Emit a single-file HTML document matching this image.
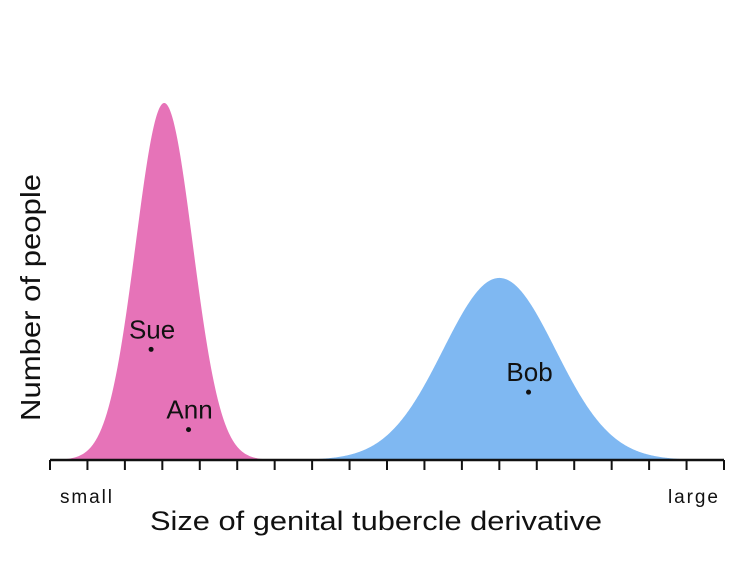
<!DOCTYPE html>
<html><head><meta charset="utf-8"><style>
body{margin:0;background:#fff;}
svg{display:block;font-family:"Liberation Sans","DejaVu Sans",sans-serif;}
</style></head><body>
<svg id="chart" width="754" height="566">
<g id="curves"></g>
<g id="axis"></g>
<g id="points"></g>
<text x="60" y="503" font-size="19" fill="#111" textLength="52">small</text>
<text x="668" y="503" font-size="19" fill="#111" textLength="50">large</text>
<text x="150" y="530" font-size="27" fill="#111" textLength="452" lengthAdjust="spacingAndGlyphs">Size of genital tubercle derivative</text>
<text transform="translate(40,421) rotate(-90)" font-size="28" fill="#111" textLength="247" lengthAdjust="spacingAndGlyphs">Number of people</text>
</svg>
<script>
const groupNames=["female","male"];
const groupMeans=[3.05,12.0];
const groupSds=[0.76,1.5];
const groupPeaks=[100,51];
const groupColors=["#e673b8","#7fb8f2"];
const personNames=["Sue","Ann","Bob"];
const personX=[2.7,3.7,12.78];
const personY=[31,8.5,19];
const tickCount=18;
const X0=50,X1=724,Y0=460,Y1=103;
const xs=v=>X0+v*(X1-X0)/tickCount;
const ys=v=>Y0-v*(Y0-Y1)/100;
const NS="http://www.w3.org/2000/svg";
const cg=document.getElementById('curves');
groupNames.forEach((n,i)=>{
 let d=`M${xs(0)},${Y0}`;
 for(let v=0;v<=tickCount;v+=0.02){
  const y=groupPeaks[i]*Math.exp(-0.5*Math.pow((v-groupMeans[i])/groupSds[i],2));
  d+=` L${xs(v).toFixed(2)},${ys(y).toFixed(2)}`;
 }
 d+=` L${xs(tickCount)},${Y0} Z`;
 const p=document.createElementNS(NS,'path');
 p.setAttribute('d',d);p.setAttribute('fill',groupColors[i]);
 
 
 cg.appendChild(p);
});
const ag=document.getElementById('axis');
const base=document.createElementNS(NS,'line');
base.setAttribute('x1',X0);base.setAttribute('x2',X1);base.setAttribute('y1',Y0);base.setAttribute('y2',Y0);
base.setAttribute('stroke','#111');base.setAttribute('stroke-width','2.5');


ag.appendChild(base);
for(let t=0;t<=tickCount;t++){
 const l=document.createElementNS(NS,'line');
 l.setAttribute('x1',xs(t));l.setAttribute('x2',xs(t));l.setAttribute('y1',Y0);l.setAttribute('y2',Y0+10);
 l.setAttribute('stroke','#111');l.setAttribute('stroke-width','2');
 
 
 ag.appendChild(l);
}
const pg=document.getElementById('points');
personNames.forEach((n,i)=>{
 const c=document.createElementNS(NS,'circle');
 c.setAttribute('cx',xs(personX[i]));c.setAttribute('cy',ys(personY[i]));c.setAttribute('r','2.5');c.setAttribute('fill','#111');
 
 
 pg.appendChild(c);
 const t=document.createElementNS(NS,'text');
 t.setAttribute('x',xs(personX[i])+1);t.setAttribute('y',ys(personY[i])-11);
 t.setAttribute('font-size','26');t.setAttribute('text-anchor','middle');t.setAttribute('fill','#111');
 t.textContent=n;
 
 
 pg.appendChild(t);
});
</script>
</body></html>
